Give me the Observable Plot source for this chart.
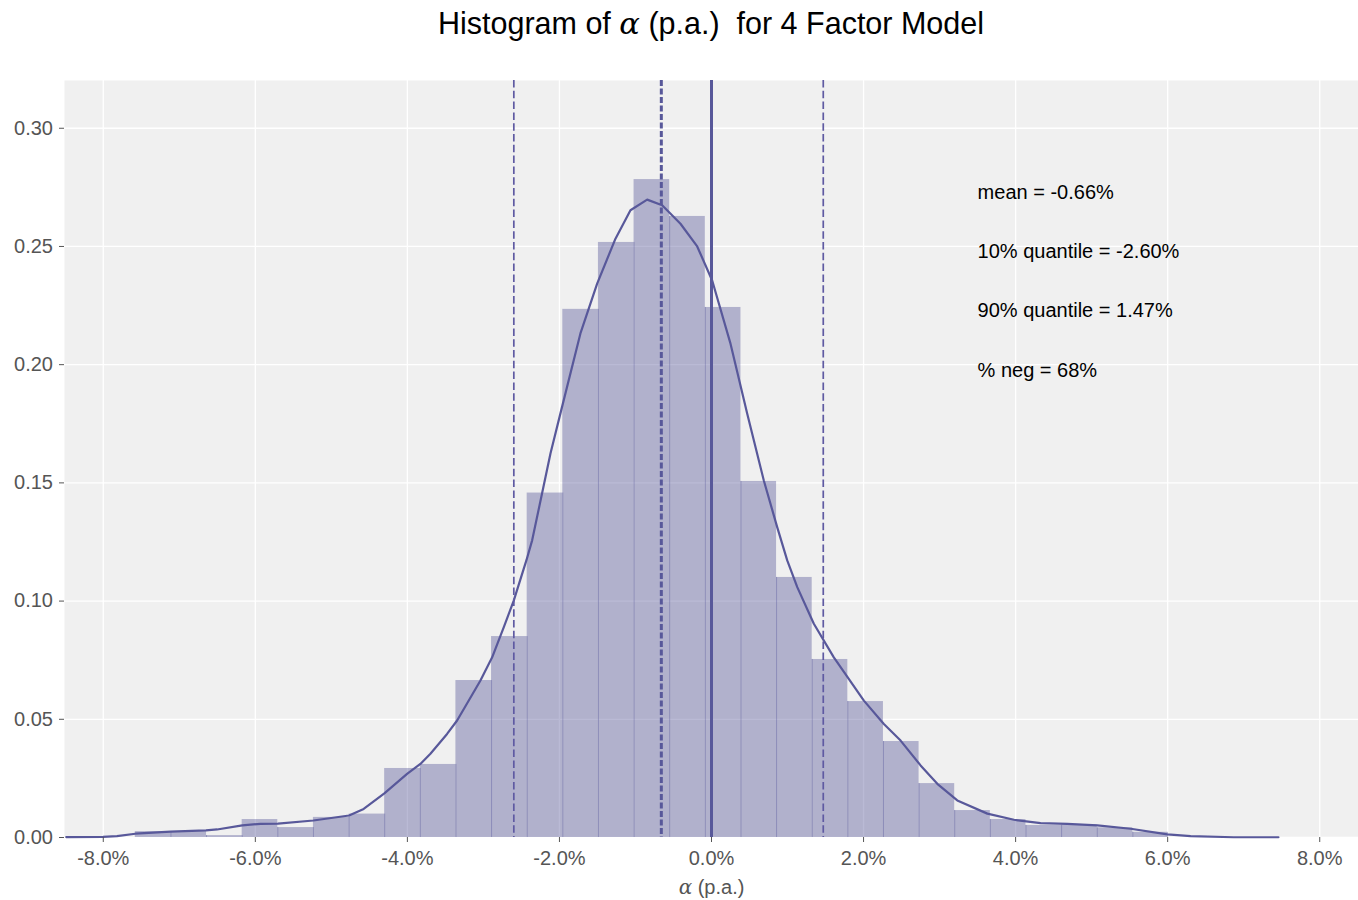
<!DOCTYPE html>
<html>
<head>
<meta charset="utf-8">
<script src="https://cdn.jsdelivr.net/npm/d3@7"></script>
<script src="https://cdn.jsdelivr.net/npm/@observablehq/plot@0.6"></script>
<style>
  body { margin: 0; background: #ffffff; font-family: "Liberation Sans", Arial, sans-serif; }
  #title { width: 1358px; height: 50px; box-sizing: border-box; padding-left: 64px; text-align: center;
           font-size: 30.5px; line-height: 46px; color: #000; white-space: nowrap; }
  #title .alpha { font-family: "DejaVu Serif", "Liberation Serif", serif; font-style: italic; }
</style>
</head>
<body>
<div id="title">Histogram of <span class="alpha">α</span> (p.a.)&nbsp; for 4 Factor Model</div>
<div id="chart"></div>
<script>
// ---- data ----
const binStart = -7.579;   // % p.a., left edge of first bin
const binWidth = 0.4686;   // % p.a.
const density = [0.0025, 0.0025, 0.0008, 0.0076, 0.0042, 0.0085, 0.0099, 0.0292, 0.0309, 0.0664,
                 0.0850, 0.1457, 0.2234, 0.2517, 0.2783, 0.2627, 0.2242, 0.1506, 0.1100, 0.0753,
                 0.0575, 0.0406, 0.0228, 0.0114, 0.0076, 0.0051, 0.0053, 0.0041, 0.0022];

const kdeX = [-8.487, -8.004, -7.820, -7.579, -7.114, -6.649, -6.504, -6.171, -5.934, -5.701,
              -5.237, -4.767, -4.575, -4.303, -4.004, -3.829, -3.697, -3.478, -3.346, -3.039,
              -2.885, -2.733, -2.601, -2.434, -2.359, -2.118, -1.987, -1.724, -1.504, -1.263,
              -1.066, -0.846, -0.649, -0.408, -0.188, 0.009, 0.250, 0.470, 0.688, 0.864,
              0.996, 1.128, 1.346, 1.609, 2.004, 2.267, 2.487, 2.750, 2.970, 3.233,
              3.628, 3.978, 4.329, 4.680, 5.075, 5.513, 5.996, 6.303, 6.868, 7.457];
const kdeY = [0.0002, 0.0003, 0.0006, 0.0016, 0.0025, 0.0030, 0.0034, 0.0051, 0.0058, 0.0059,
              0.0072, 0.0093, 0.0121, 0.0187, 0.0269, 0.0311, 0.0354, 0.0438, 0.0495, 0.0664,
              0.0762, 0.0889, 0.1002, 0.1173, 0.1257, 0.1624, 0.1794, 0.2132, 0.2343, 0.2533,
              0.2653, 0.2698, 0.2674, 0.2596, 0.2500, 0.2356, 0.2089, 0.1792, 0.1510, 0.1313,
              0.1172, 0.1059, 0.0904, 0.0762, 0.0579, 0.0480, 0.0410, 0.0305, 0.0227, 0.0157,
              0.0101, 0.0075, 0.0061, 0.0058, 0.0051, 0.0037, 0.0013, 0.0006, 0.0001, 0.0001];

const meanValue = -0.66;
const q10Value = -2.60;
const q90Value = 1.47;
const zeroValue = 0;

const annotationLabels = ["mean = -0.66%", "10% quantile = -2.60%", "90% quantile = 1.47%", "% neg = 68%"];
const annotationX = [3.5, 3.5, 3.5, 3.5];
const annotationY = [0.2727, 0.2477, 0.2227, 0.1977];

const xTicks = [-8, -6, -4, -2, 0, 2, 4, 6, 8];
const yTicks = [0, 0.05, 0.10, 0.15, 0.20, 0.25, 0.30];
const xLabel = "α (p.a.)";

// ---- derived tables ----
const bins = density.map((d, i) => ({x1: binStart + i * binWidth, x2: binStart + (i + 1) * binWidth, y: d}));
const edges = density.slice(1).map((d, i) => ({x: binStart + (i + 1) * binWidth, y: Math.min(d, density[i])}));
const kde = kdeX.map((x, i) => ({x, y: kdeY[i]}));
const notes = annotationLabels.map((t, i) => ({t, x: annotationX[i], y: annotationY[i]}));

const lineColor = "#58589a";

const chart = Plot.plot({
  width: 1358,
  height: 850,
  marginTop: 30,
  marginBottom: 63,
  marginLeft: 64,
  marginRight: 0,
  style: {fontFamily: "'Liberation Sans', Arial, sans-serif", color: "#555555", background: "transparent", overflow: "visible"},
  x: {domain: [-8.51, 8.51]},
  y: {domain: [0, 0.3202]},
  marks: [
    Plot.frame({fill: "#f0f0f0", stroke: "none"}),
    Plot.gridX(xTicks, {stroke: "#ffffff", strokeOpacity: 1, strokeWidth: 1.3}),
    Plot.gridY(yTicks, {stroke: "#ffffff", strokeOpacity: 1, strokeWidth: 1.3}),
    Plot.rectY(bins, {x1: "x1", x2: "x2", y: "y", fill: lineColor, fillOpacity: 0.41, insetLeft: 0, insetRight: 0}),
    Plot.ruleX(edges, {x: "x", y1: 0, y2: "y", stroke: lineColor, strokeOpacity: 0.4, strokeWidth: 1}),
    Plot.line(kde, {x: "x", y: "y", stroke: lineColor, strokeWidth: 2.2, curve: "linear"}),
    Plot.ruleX([q10Value, q90Value], {stroke: "#5f5aa2", strokeWidth: 1.7, strokeDasharray: "7.5,3.3"}),
    Plot.ruleX([meanValue], {stroke: lineColor, strokeWidth: 3, strokeDasharray: "6,2.5"}),
    Plot.ruleX([zeroValue], {stroke: lineColor, strokeWidth: 3}),
    Plot.text(notes, {x: "x", y: "y", text: "t", textAnchor: "start", lineAnchor: "middle", fill: "#000000", fontSize: 20}),
    Plot.axisX(xTicks, {tickFormat: d => d.toFixed(1) + "%", tickSize: 5, tickPadding: 8, fontSize: 20, label: null}),
    Plot.axisY(yTicks, {tickFormat: d => d.toFixed(2), tickSize: 5, tickPadding: 6.5, fontSize: 20, label: null}),
    Plot.text([xLabel], {frameAnchor: "bottom", dy: 50, lineAnchor: "middle", fill: "#555555", fontSize: 20})
  ]
});

document.getElementById("chart").appendChild(chart);

// italic serif alpha in the axis label
chart.querySelectorAll("text").forEach(t => {
  if (t.textContent === xLabel) {
    const target = t.querySelector("tspan") || t;
    const rest = xLabel.slice(1);
    target.textContent = "";
    const a = document.createElementNS("http://www.w3.org/2000/svg", "tspan");
    a.setAttribute("font-family", "'DejaVu Serif', 'Liberation Serif', serif");
    a.setAttribute("font-style", "italic");
    a.textContent = "α";
    const r = document.createElementNS("http://www.w3.org/2000/svg", "tspan");
    r.textContent = rest;
    target.appendChild(a);
    target.appendChild(r);
  }
});
</script>
</body>
</html>
